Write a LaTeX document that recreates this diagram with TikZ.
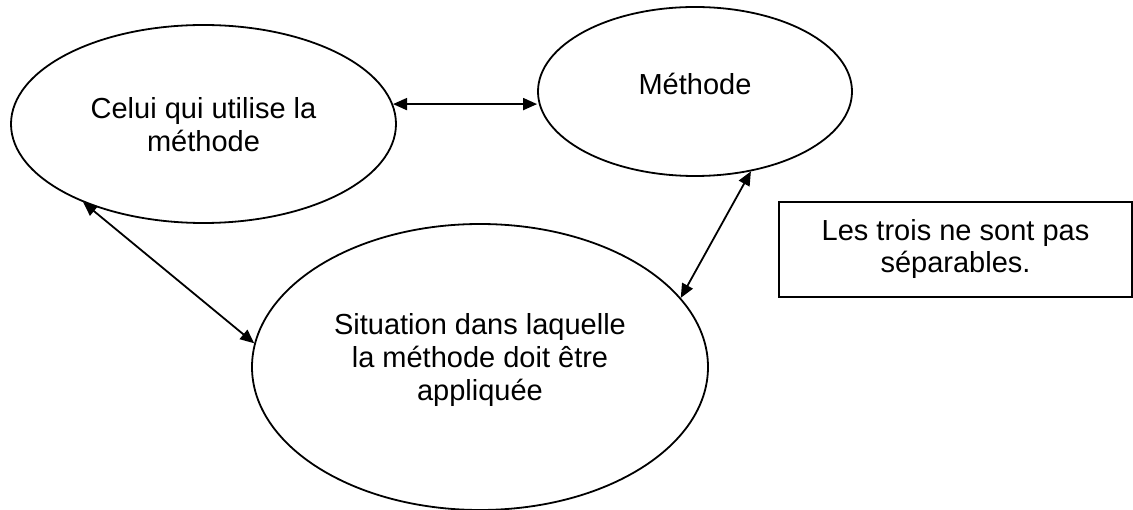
\documentclass[tikz,border=0pt]{standalone}
\usepackage{fontspec}
\setmainfont{Liberation Sans}
\usetikzlibrary{shapes.geometric,arrows.meta}
\begin{document}
\begin{tikzpicture}[x=1pt,y=-1pt,
  oval/.style={draw,ellipse,line width=1.8pt,inner sep=0pt},
  lbl/.style={align=center,font=\fontsize{29}{33}\selectfont,inner sep=0pt},
  link/.style={{Triangle[length=14pt,width=12pt]}-{Triangle[length=14pt,width=12pt]},line width=1.8pt},
  note/.style={draw,line width=1.5pt,minimum width=353pt,minimum height=95pt,inner sep=0pt,align=center,font=\fontsize{29}{32}\selectfont}]
\useasboundingbox (0,0) rectangle (1133,510);
\node[oval,minimum width=385pt,minimum height=198pt] (e1) at (203.5,124) {};
\node[oval,minimum width=314pt,minimum height=169pt] (e2) at (695,91.5) {};
\node[oval,minimum width=456pt,minimum height=286pt] (e3) at (480,367) {};
\node[lbl] (t1) at (203.5,124.5) {Celui qui utilise la\\méthode};
\node[lbl] (t2) at (695,84) {Méthode};
\node[lbl] (t3) at (480,360.5) {Situation dans laquelle\\la méthode doit être\\appliquée};
\node[note] (n) at (955.5,249.5) {Les trois ne sont pas\\séparables.};
\draw[link] (e1.6) -- (e1.6 -| e2.west);
\draw[link] (e1.213.7) -- (e3.174);
\draw[link] (e2.-55) -- (e3.19.5);
\end{tikzpicture}
\end{document}
